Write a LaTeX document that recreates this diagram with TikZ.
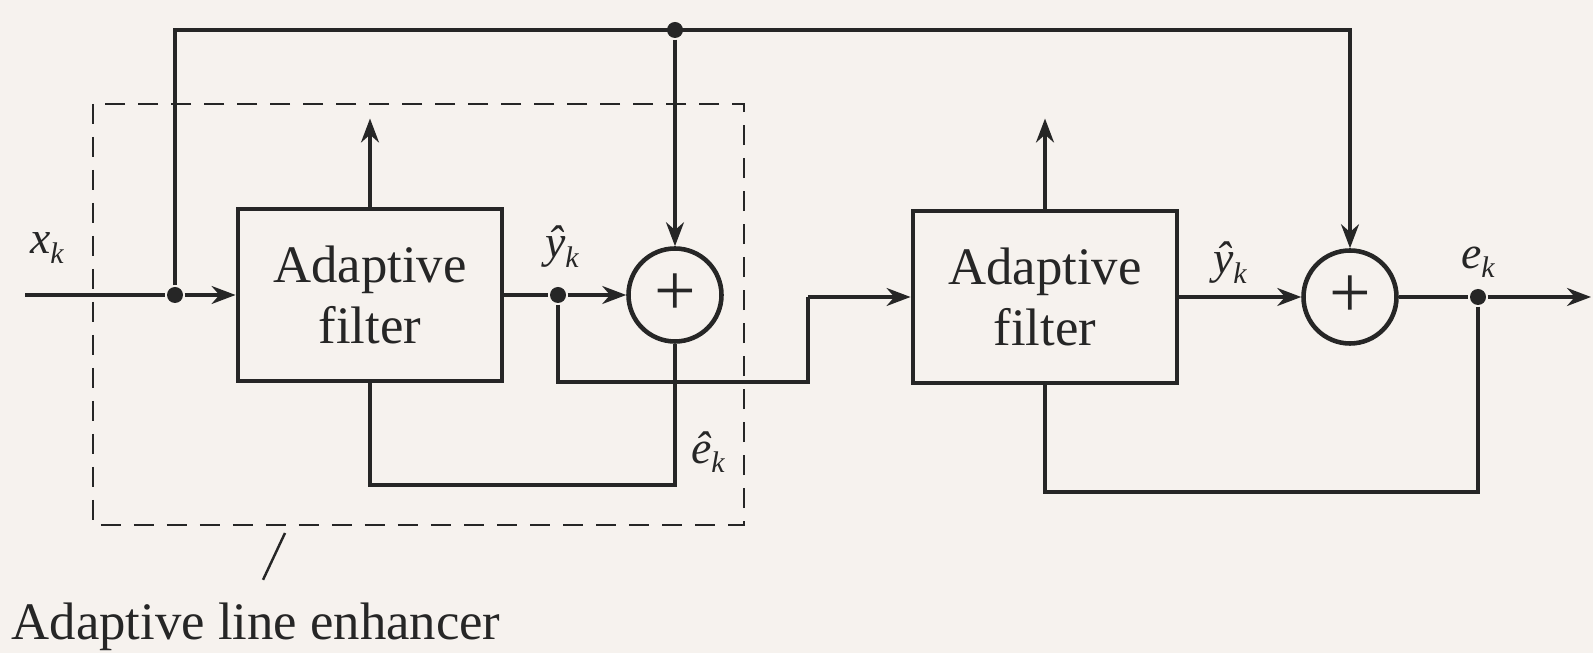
\documentclass[tikz,border=0pt]{standalone}
\usepackage{fontspec}
\setmainfont{Liberation Serif}
\usetikzlibrary{arrows.meta,positioning,calc}
\definecolor{paper}{RGB}{246,242,238}
\definecolor{ink}{RGB}{38,38,38}
\newcommand{\sig}[1]{\textit{#1}\raisebox{-0.45ex}{\fontsize{8.5}{8.5}\selectfont\textit{k}}}

\begin{document}
\begin{tikzpicture}[font=\fontsize{15}{17.5}\selectfont, color=ink, line width=0.9pt,
  >={Stealth[length=2.4mm,width=1.8mm]},
  blk/.style={draw,line width=1.4pt,minimum width=2.64cm,minimum height=1.72cm,align=center,inner sep=0pt},
  adder/.style={draw,circle,line width=1.3pt,minimum size=0.93cm,inner sep=0pt,font=\fontsize{21}{21}\selectfont},
  dot/.style={circle,fill,inner sep=0pt,minimum size=1.6mm},
  lbl/.style={font=\fontsize{13}{15}\selectfont,inner sep=0pt}]
  \fill[paper] (0,0) rectangle (15.93,-6.53);
  \useasboundingbox (0,0) rectangle (15.93,-6.53);
  \node[blk] (af1) at (3.70,-2.95) {Adaptive\\filter};
  \node[blk] (af2) at (10.45,-2.97) {Adaptive\\filter};
  \node[adder] (s1) at (6.75,-2.95) {+};
  \node[adder] (s2) at (13.50,-2.97) {+};
  \coordinate (xin) at (0.25,-2.95);
  \node[dot] (d1) at (1.75,-2.95) {};
  \node[dot] (d2) at (6.75,-0.30) {};
  \node[dot] (dy) at (5.58,-2.95) {};
  \node[dot] (de) at (14.78,-2.97) {};
  \coordinate (xout) at (15.91,-2.97);
  \coordinate (t1) at (1.75,-0.30);
  \coordinate (r1) at (5.58,-3.82);
  \coordinate (r2) at (8.08,-3.82);
  \coordinate (r3) at (8.08,-2.97);
  \coordinate (f1) at (6.75,-4.85);
  \coordinate (f2) at (14.78,-4.92);
  \draw (xin) -- (d1);
  \draw[->] (d1) -- (af1.west);
  \draw[->] (d1) -- (t1) -| (s2.north);
  \draw[->] (d2) -- (s1.north);
  \draw[->] (af1.north) -- ++(0,0.88);
  \draw[->] (af2.north) -- ++(0,0.90);
  \draw (af1.east) -- (dy);
  \draw[->] (dy) -- (s1.west);
  \draw (dy) -- (r1) -- (r2) -- (r3);
  \draw[->] (r3) -- (af2.west);
  \draw (s1.south) -- (f1) -| (af1.south);
  \draw[->] (af2.east |- s2) -- (s2.west);
  \draw (s2.east) -- (de);
  \draw[->] (de) -- (xout);
  \draw (de) -- (f2) -| (af2.south);
  \draw[dash pattern=on 2mm off 1.3mm,line width=0.8pt] (0.93,-1.04) rectangle (7.44,-5.25);
  \node[lbl] (lx) at (0.47,-2.48) {\sig{x}};
  \node[lbl] (ly1) at (5.62,-2.47) {\sig{ŷ}};
  \node[lbl] (le1) at (7.08,-4.52) {\sig{ê}};
  \node[lbl] (ly2) at (12.30,-2.63) {\sig{ŷ}};
  \node[lbl] (le2) at (14.78,-2.62) {\sig{e}};
  \node[anchor=base west,inner sep=0pt] (ale) at (0.10,-6.40) {Adaptive line enhancer};
  \coordinate (ptr) at (2.85,-5.33);
  \draw[line width=0.7pt] (ptr) -- ([xshift=0.7mm,yshift=2.2mm]ale.north);
\end{tikzpicture}
\end{document}
